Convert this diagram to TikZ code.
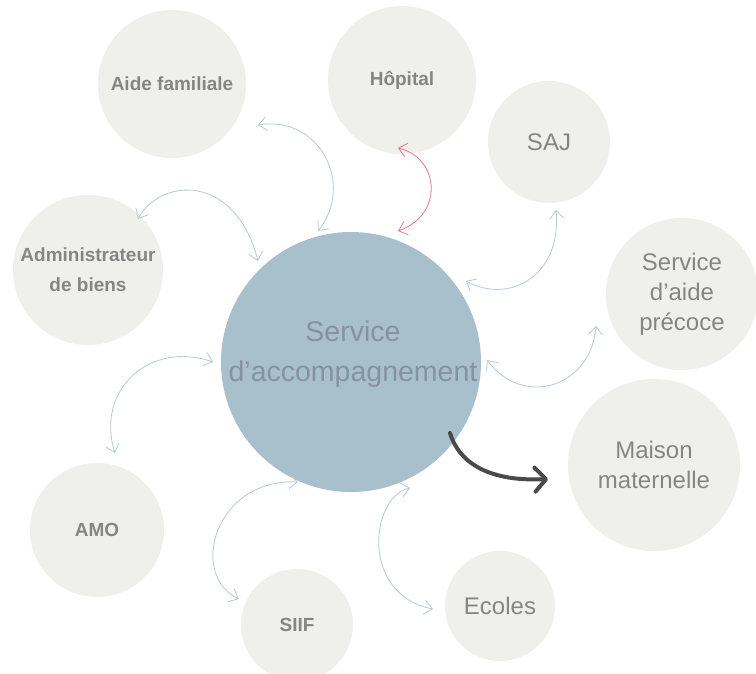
\documentclass[tikz,border=0pt]{standalone}
\usepackage{fontspec}
\setmainfont{Liberation Sans}
\usetikzlibrary{arrows.meta,calc}
\definecolor{satfill}{HTML}{EFEFEB}
\definecolor{hubfill}{HTML}{A8BFCC}
\definecolor{hubtext}{HTML}{8692A0}
\definecolor{sattext}{HTML}{858585}
\definecolor{linkcol}{HTML}{B9C9D5}
\definecolor{redcol}{HTML}{E27B8C}
\definecolor{darkcol}{HTML}{4A4A4A}
\begin{document}
\begin{tikzpicture}[x=1pt,y=-1pt,
  sat/.style={circle,fill=satfill,inner sep=0pt,text=sattext,align=center},
  small/.style={font=\fontsize{19}{30}\selectfont\bfseries},
  big/.style={font=\fontsize{24}{30}\selectfont},
  hub/.style={circle,fill=hubfill,inner sep=0pt,minimum size=260pt},
  hubtxt/.style={text=hubtext,align=center,inner sep=0pt,font=\fontsize{28.5}{40}\selectfont},
  link/.style={draw=linkcol,line width=0.8pt,{Straight Barb[length=8pt,width=14pt]}-{Straight Barb[length=8pt,width=14pt]}},
  redlink/.style={link,draw=redcol},
  darklink/.style={draw=darkcol,line width=4pt,line cap=round,-{Straight Barb[length=11pt,width=24pt,line cap=round,line join=round]}}
]
\useasboundingbox (0,0) rectangle (756,673);
\fill[white] (0,0) rectangle (756,673);

\node[hub] (c) at (351,362) {};
\node[hubtxt] (ctext) at (353,354) {Service\\d’accompagnement};

\node[sat,small,minimum size=148pt] (aide) at (172,84) {Aide familiale};
\node[sat,small,minimum size=148pt] (hop) at (402,80) {Hôpital};
\node[sat,big,minimum size=122pt] (saj) at (549,142) {SAJ};
\node[sat,big,minimum size=152pt] (sap) at (682,294) {Service\\d’aide\\précoce};
\node[sat,big,minimum size=172pt] (mm) at (654,465) {Maison\\maternelle};
\node[sat,big,minimum size=110pt] (eco) at (500,606) {Ecoles};
\node[sat,small,minimum size=112pt] (siif) at (297,625) {SIIF};
\node[sat,small,minimum size=134pt] (amo) at (97,530) {AMO};
\node[sat,small,minimum size=150pt] (adm) at (88,270) {Administrateur\\de biens};

% Aide familiale
\draw[link] ($(aide)+(86,41)$) .. controls (320,115) and (355,185) .. ($(c)+(-33,-131)$);
% Administrateur
\draw[link] ($(adm)+(50,-51)$) .. controls (160,178) and (235,172) .. ($(c)+(-93,-101)$);
% Hopital
\draw[redlink] ($(hop)+(-4,68)$) .. controls (440,158) and (444,215) .. ($(c)+(47,-131)$);
% SAJ
\draw[link] ($(saj)+(7,68)$) .. controls (562,275) and (510,305) .. ($(c)+(115,-81)$);
% Service d'aide precoce
\draw[link] ($(sap)+(-86,32)$) .. controls (592,385) and (525,410) .. ($(c)+(136,-2)$);
% Maison maternelle
\draw[darklink] ($(c)+(99,71)$) .. controls (458,460) and (485,482) .. ($(mm)+(-106,14)$);
% Ecoles
\draw[link] ($(c)+(59,126)$) .. controls (370,497) and (360,595) .. ($(eco)+(-67,3)$);
% SIIF
\draw[link] ($(c)+(-53,120)$) .. controls (215,478) and (188,575) .. ($(siif)+(-58,-26)$);
% AMO
\draw[link] ($(c)+(-138,0)$) .. controls (150,340) and (95,390) .. ($(amo)+(18,-77)$);
\end{tikzpicture}
\end{document}
